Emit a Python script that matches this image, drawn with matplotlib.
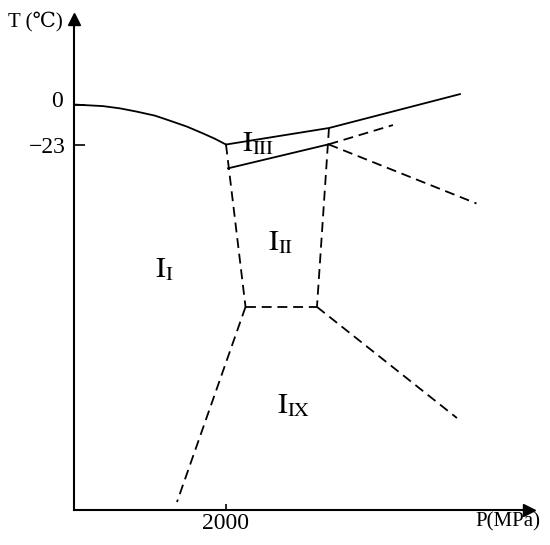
import matplotlib
matplotlib.use("Agg")
import matplotlib.pyplot as plt
from matplotlib.transforms import ScaledTranslation

plt.rcParams["font.family"] = ["Liberation Serif", "DejaVu Serif"]
plt.rcParams["mathtext.fontset"] = "stix"

# phase boundaries, P in MPa, T in degC
melt_P = [0, 382, 605, 829, 1066, 1263, 1487, 1697, 1855, 2000]
melt_T = [0, -0.9, -2.2, -4.1, -6.4, -9.3, -12.7, -16.6, -19.7, -23]

upper_P = [2000, 3355, 5079]
upper_T = [-23, -13.5, 6.0]

lower_P = [2026, 3349]
lower_T = [-36.7, -22.9]

# dashed boundaries
dashed = [
    ([2000, 2257], [-23, -116.4]),
    ([3355, 3197], [-13.5, -116.4]),
    ([2257, 3197], [-116.4, -116.4]),
    ([2257, 1355], [-116.4, -228.6]),
    ([3197, 5039], [-116.4, -180.3]),
    ([3349, 4197], [-22.9, -11.8]),
    ([3349, 5296], [-22.9, -56.9]),
]

phases = [r"$\mathrm{I}_{\mathrm{I}}$", r"$\mathrm{I}_{\mathrm{II}}$",
          r"$\mathrm{I}_{\mathrm{III}}$", r"$\mathrm{I}_{\mathrm{IX}}$"]
phase_P = [1066, 2553, 2207, 2667]
phase_T = [-99.0, -83.7, -26.7, -177.2]

fig = plt.figure(figsize=(5.5, 5.45), dpi=100)
ax = fig.add_axes([74/550, 35/545, 455/550, 491/545])
ax.set_xlim(0, 5987)
ax.set_ylim(-233.2, 49.2)

ax.plot(melt_P, melt_T, color="black", lw=1.3)
ax.plot(upper_P, upper_T, color="black", lw=1.3)
ax.plot(lower_P, lower_T, color="black", lw=1.3)
for px, ty in dashed:
    ax.plot(px, ty, color="black", lw=1.3, dashes=(5.5, 3.2))

for lab, p, t in zip(phases, phase_P, phase_T):
    ax.text(p, t, lab, fontsize=21, ha="left", va="baseline")

ax.spines["right"].set_visible(False)
ax.spines["top"].set_visible(False)
ax.spines["left"].set_linewidth(1.5)
ax.spines["bottom"].set_linewidth(1.5)
ax.plot(1, 0, ">k", ms=9, transform=ax.transAxes, clip_on=False)
ax.plot(0, 1, "^k", ms=9, transform=ax.transAxes, clip_on=False)

ax.set_xticks([2000])
ax.set_xticklabels(["2000"])
ax.set_yticks([0, -23])
ax.set_yticklabels(["0", "\u221223"])
ax.tick_params(axis="y", direction="in", length=8, width=1.2, labelsize=17, pad=6)
ax.tick_params(axis="x", direction="in", length=4, width=1.2, labelsize=17, pad=2)

# the "0" label sits a little above its tick in the original
zero_lab = ax.get_yticklabels()[0]
zero_lab.set_transform(zero_lab.get_transform() + ScaledTranslation(-2/72, 4/72, fig.dpi_scale_trans))

fig.text(35.5/550, 1 - 21.7/545, "T (\u2103)", fontsize=15, ha="center", va="center")
fig.text(507.5/550, 1 - 521.7/545, "P(MPa)", fontsize=15, ha="center", va="center")

fig.savefig("out.png", dpi=100)
